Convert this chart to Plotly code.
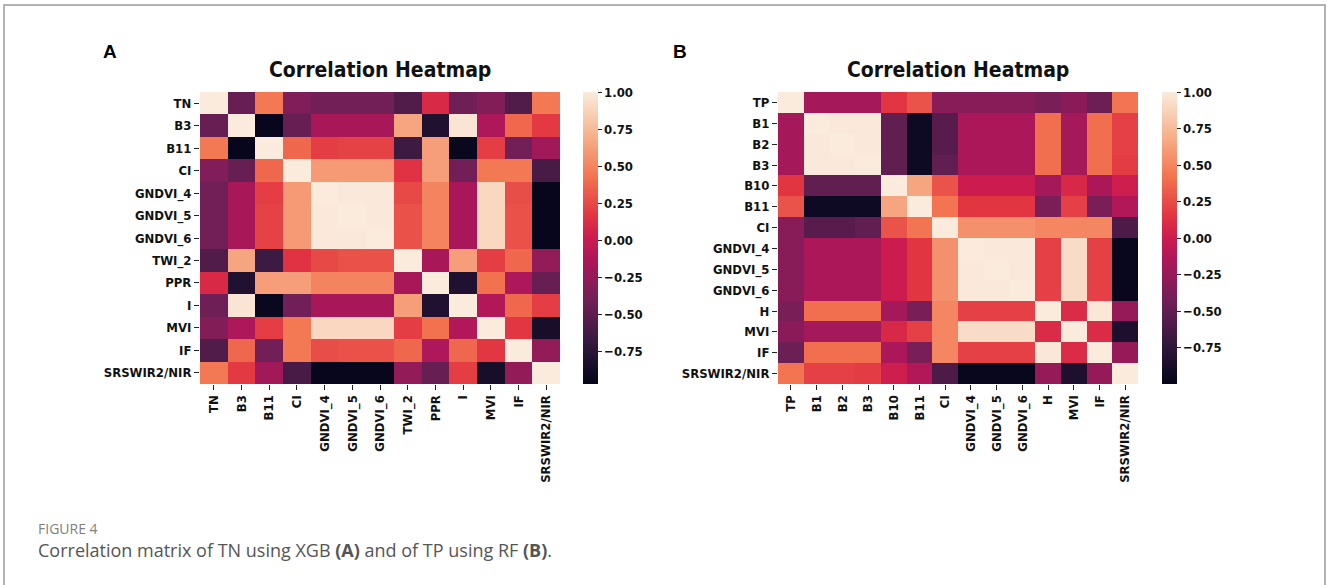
import plotly.graph_objects as go

# ---------------- data ----------------
labels_a = ["TN", "B3", "B11", "CI", "GNDVI_4", "GNDVI_5", "GNDVI_6",
            "TWI_2", "PPR", "I", "MVI", "IF", "SRSWIR2/NIR"]
corr_a = [
    [1.00, -0.45, 0.45, -0.33, -0.40, -0.40, -0.40, -0.55, 0.10, -0.42, -0.32, -0.55, 0.45],
    [-0.45, 1.00, -0.95, -0.45, -0.15, -0.15, -0.15, 0.65, -0.80, 0.97, -0.12, 0.38, 0.18],
    [0.45, -0.95, 1.00, 0.38, 0.20, 0.22, 0.22, -0.65, 0.62, -0.93, 0.20, -0.40, -0.18],
    [-0.33, -0.45, 0.38, 1.00, 0.60, 0.60, 0.60, 0.15, 0.62, -0.40, 0.45, 0.45, -0.60],
    [-0.40, -0.15, 0.20, 0.60, 1.00, 0.99, 0.99, 0.25, 0.50, -0.15, 0.90, 0.27, -0.95],
    [-0.40, -0.15, 0.22, 0.60, 0.99, 1.00, 0.99, 0.28, 0.50, -0.15, 0.90, 0.28, -0.95],
    [-0.40, -0.15, 0.22, 0.60, 0.99, 0.99, 1.00, 0.28, 0.50, -0.15, 0.90, 0.28, -0.95],
    [-0.55, 0.65, -0.65, 0.15, 0.25, 0.28, 0.28, 1.00, -0.15, 0.62, 0.20, 0.38, -0.25],
    [0.10, -0.80, 0.62, 0.62, 0.50, 0.50, 0.50, -0.15, 1.00, -0.80, 0.42, -0.12, -0.45],
    [-0.42, 0.97, -0.93, -0.40, -0.15, -0.15, -0.15, 0.62, -0.80, 1.00, -0.10, 0.38, 0.20],
    [-0.32, -0.12, 0.20, 0.45, 0.90, 0.90, 0.90, 0.20, 0.42, -0.10, 1.00, 0.17, -0.85],
    [-0.55, 0.38, -0.40, 0.45, 0.27, 0.28, 0.28, 0.38, -0.12, 0.38, 0.17, 1.00, -0.25],
    [0.45, 0.18, -0.18, -0.60, -0.95, -0.95, -0.95, -0.25, -0.45, 0.20, -0.85, -0.25, 1.00],
]

labels_b = ["TP", "B1", "B2", "B3", "B10", "B11", "CI", "GNDVI_4", "GNDVI_5",
            "GNDVI_6", "H", "MVI", "IF", "SRSWIR2/NIR"]
corr_b = [
    [1.00, -0.18, -0.18, -0.18, 0.15, 0.28, -0.32, -0.32, -0.32, -0.32, -0.38, -0.30, -0.45, 0.42],
    [-0.18, 1.00, 0.99, 0.99, -0.50, -0.93, -0.55, -0.15, -0.15, -0.15, 0.40, -0.18, 0.40, 0.20],
    [-0.18, 0.99, 1.00, 0.99, -0.50, -0.93, -0.55, -0.15, -0.15, -0.15, 0.40, -0.18, 0.40, 0.20],
    [-0.18, 0.99, 0.99, 1.00, -0.50, -0.93, -0.50, -0.15, -0.15, -0.15, 0.40, -0.18, 0.40, 0.18],
    [0.15, -0.50, -0.50, -0.50, 1.00, 0.65, 0.28, 0.00, 0.00, 0.00, -0.18, 0.08, -0.15, 0.02],
    [0.28, -0.93, -0.93, -0.93, 0.65, 1.00, 0.42, 0.15, 0.15, 0.15, -0.38, 0.20, -0.38, -0.12],
    [-0.32, -0.55, -0.55, -0.50, 0.28, 0.42, 1.00, 0.55, 0.55, 0.55, 0.50, 0.50, 0.50, -0.60],
    [-0.32, -0.15, -0.15, -0.15, 0.00, 0.15, 0.55, 1.00, 0.99, 0.99, 0.20, 0.92, 0.20, -0.97],
    [-0.32, -0.15, -0.15, -0.15, 0.00, 0.15, 0.55, 0.99, 1.00, 0.99, 0.20, 0.92, 0.20, -0.97],
    [-0.32, -0.15, -0.15, -0.15, 0.00, 0.15, 0.55, 0.99, 0.99, 1.00, 0.20, 0.92, 0.20, -0.97],
    [-0.38, 0.40, 0.40, 0.40, -0.18, -0.38, 0.50, 0.20, 0.20, 0.20, 1.00, 0.10, 0.98, -0.25],
    [-0.30, -0.18, -0.18, -0.18, 0.08, 0.20, 0.50, 0.92, 0.92, 0.92, 0.10, 1.00, 0.10, -0.85],
    [-0.45, 0.40, 0.40, 0.40, -0.15, -0.38, 0.50, 0.20, 0.20, 0.20, 0.98, 0.10, 1.00, -0.25],
    [0.42, 0.20, 0.20, 0.18, 0.02, -0.12, -0.60, -0.97, -0.97, -0.97, -0.25, -0.85, -0.25, 1.00],
]

cbar_ticks = [-0.75, -0.50, -0.25, 0.00, 0.25, 0.50, 0.75, 1.00]
zmin_a, zmax_a = -0.97, 1.0
zmin_b, zmax_b = -1.0, 1.0

title_text = "Correlation Heatmap"
caption_head = "FIGURE 4"
caption_text = "Correlation matrix of TN using XGB <b>(A)</b> and of TP using RF <b>(B)</b>."

# ---------------- style ----------------
W, H = 1328, 585
rocket = [
    [0.0, "#03051a"],
    [0.1429, "#35193e"],
    [0.2857, "#701f57"],
    [0.4286, "#ad1759"],
    [0.5, "#cb1b4f"],
    [0.5714, "#e13342"],
    [0.7143, "#f37651"],
    [0.8571, "#f6b48f"],
    [1.0, "#faebdd"],
]
FONT = "DejaVu Sans Condensed, DejaVu Sans"


def px(x):
    return x / W


def py(y):
    return 1 - y / H


def cbar(xleft):
    return dict(
        x=px(xleft), xanchor="left", xpad=0, ypad=0,
        y=py((92 + 384) / 2), yanchor="middle",
        len=292, lenmode="pixels", thickness=15, thicknessmode="pixels",
        outlinewidth=0, ticks="outside", ticklen=4, tickwidth=1,
        tickcolor="#222", tickvals=cbar_ticks, tickformat=".2f",
        tickfont=dict(family=FONT, size=13, color="#111", weight="bold"),
    )


fig = go.Figure()
fig.add_trace(go.Heatmap(
    z=corr_a, x=labels_a, y=labels_a, colorscale=rocket,
    zmin=zmin_a, zmax=zmax_a, xaxis="x", yaxis="y",
    colorbar=cbar(583),
))
fig.add_trace(go.Heatmap(
    z=corr_b, x=labels_b, y=labels_b, colorscale=rocket,
    zmin=zmin_b, zmax=zmax_b, xaxis="x2", yaxis="y2",
    colorbar=cbar(1162),
))

axis_common = dict(
    showgrid=False, zeroline=False, showline=False, ticks="outside",
    ticklen=5, tickwidth=1, tickcolor="#222",
    tickfont=dict(family=FONT, size=13, color="#111", weight="bold"),
)

fig.update_layout(
    width=W, height=H, margin=dict(l=0, r=0, t=0, b=0),
    paper_bgcolor="white", plot_bgcolor="white", showlegend=False,
    xaxis=dict(domain=[px(200), px(560)], anchor="y", tickangle=-90, **axis_common),
    yaxis=dict(domain=[py(384), py(92)], anchor="x", autorange="reversed", **axis_common),
    xaxis2=dict(domain=[px(778), px(1138)], anchor="y2", tickangle=-90, **axis_common),
    yaxis2=dict(domain=[py(384), py(92)], anchor="x2", autorange="reversed", **axis_common),
)

annots = [
    dict(text="<b>A</b>", x=px(110), y=py(51), font=dict(family="Liberation Sans", size=19, color="#000"),
         xanchor="center", yanchor="middle"),
    dict(text="<b>B</b>", x=px(680), y=py(51), font=dict(family="Liberation Sans", size=19, color="#000"),
         xanchor="center", yanchor="middle"),
    dict(text=title_text, x=px(380), y=py(70), font=dict(family=FONT, size=21, color="#111", weight="bold"),
         xanchor="center", yanchor="middle"),
    dict(text=title_text, x=px(958), y=py(70), font=dict(family=FONT, size=21, color="#111", weight="bold"),
         xanchor="center", yanchor="middle"),
    dict(text=caption_head, x=px(36), y=py(528), font=dict(family="Open Sans", size=14, color="#808080"),
         xanchor="left", yanchor="middle"),
    dict(text=caption_text, x=px(36), y=py(550), font=dict(family="Open Sans", size=18, color="#555555"),
         xanchor="left", yanchor="middle"),
]
for a in annots:
    a.update(xref="paper", yref="paper", showarrow=False)
fig.update_layout(annotations=annots)

fig.add_shape(type="rect", xref="paper", yref="paper",
              x0=px(4), x1=px(1325), y0=-0.05, y1=py(5),
              line=dict(color="#9a9a9a", width=1.5), fillcolor="rgba(0,0,0,0)")

fig.write_html("out.html")
